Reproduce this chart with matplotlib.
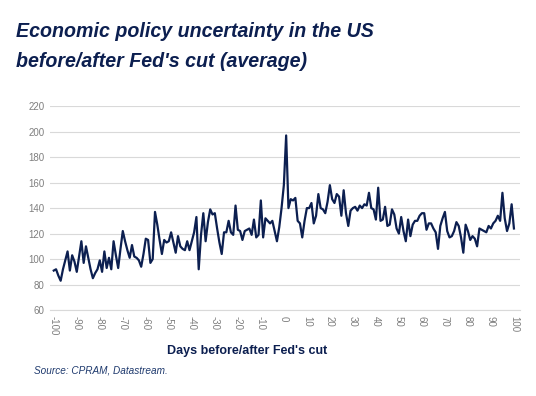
import matplotlib.pyplot as plt

# days relative to the Fed's cut
days = list(range(-100, 101))

# average EPU index
epu_before = [
    91, 92, 87, 83, 92, 99, 106, 91, 103, 98,        # -100..-91
    90, 102, 114, 97, 110, 101, 92, 85, 89, 92,      # -90..-81
    99, 90, 106, 93, 101, 92, 114, 103, 93, 108,     # -80..-71
    122, 114, 107, 101, 111, 102, 101, 99, 94, 104,  # -70..-61
    116, 115, 97, 100, 137, 127, 115, 104, 115, 113, # -60..-51
    114, 121, 113, 105, 118, 110, 108, 107, 114, 107,# -50..-41
    114, 121, 133, 92, 119, 136, 114, 129, 139, 135, # -40..-31
    136, 124, 113, 104, 121, 121, 130, 121, 119, 142,# -30..-21
    123, 122, 115, 122, 123, 124, 119, 131, 117, 119,# -20..-11
    146, 117, 132, 130, 128, 130, 122, 114, 125, 140,# -10..-1
]
epu_after = [
    158, 197, 140, 147, 146, 148, 130, 128, 117, 130,# 0..9
    140, 140, 144, 128, 134, 151, 140, 139, 136, 145,# 10..19
    158, 147, 144, 151, 149, 134, 154, 136, 126, 138,# 20..29
    140, 141, 138, 142, 140, 143, 142, 152, 140, 139,# 30..39
    131, 156, 130, 131, 141, 126, 127, 139, 135, 124,# 40..49
    120, 133, 122, 114, 131, 118, 127, 130, 130, 134,# 50..59
    136, 136, 123, 128, 128, 124, 121, 108, 126, 132,# 60..69
    137, 122, 117, 118, 122, 129, 126, 117, 105, 127,# 70..79
    122, 115, 118, 116, 110, 124, 123, 122, 121, 126,# 80..89
    124, 128, 130, 134, 130, 152, 132, 122, 128, 143,# 90..99
    124,                                             # 100
]
epu = epu_before + epu_after

yticks = [60, 80, 100, 120, 140, 160, 180, 200, 220]
xticks = list(range(-100, 101, 10))

navy = '#0c1f50'
grey = '#7f7f7f'

plt.rcParams['font.family'] = ['Liberation Sans', 'DejaVu Sans']

fig = plt.figure(figsize=(5.36, 3.96), dpi=100)
ax = fig.add_axes([0.093, 0.217, 0.877, 0.515])

ax.plot(days, epu, color=navy, linewidth=1.6, solid_joinstyle='round')

ax.set_ylim(60, 220)
ax.set_xlim(-101.7, 102.6)
ax.set_yticks(yticks)
ax.set_xticks(xticks)
ax.set_xticklabels([str(t) for t in xticks], rotation=-90)
ax.tick_params(axis='both', length=0, labelsize=7, colors=grey, pad=4)
ax.grid(axis='y', color='#d9d9d9', linewidth=0.8)
ax.set_axisbelow(True)
for side in ['top', 'right', 'left']:
    ax.spines[side].set_visible(False)
ax.spines['bottom'].set_color('#d9d9d9')
ax.spines['bottom'].set_linewidth(0.8)

# axis title sits left of centre in the original
fig.text(0.461, 0.107, "Days before/after Fed's cut", fontsize=9,
         fontweight='bold', color=navy, ha='center')

fig.text(0.030, 0.906, "Economic policy uncertainty in the US", fontsize=14.1,
         fontweight='bold', fontstyle='italic', color=navy)
fig.text(0.030, 0.830, "before/after Fed's cut (average)", fontsize=14.1,
         fontweight='bold', fontstyle='italic', color=navy)
fig.text(0.064, 0.058, "Source: CPRAM, Datastream.", fontsize=7.2,
         fontstyle='italic', color='#1f3a6e')

plt.savefig('out.png', dpi=100)
